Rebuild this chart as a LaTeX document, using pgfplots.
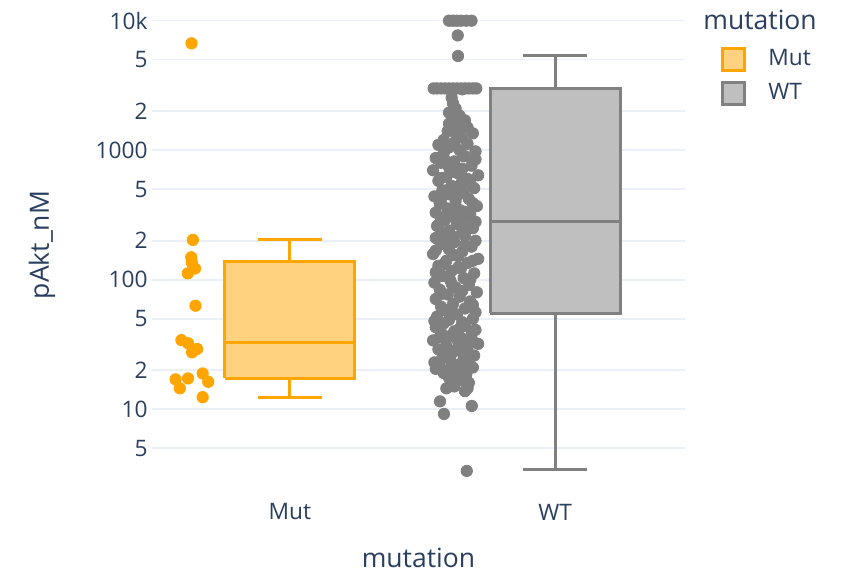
\documentclass[border=0pt]{standalone}
\usepackage{fontspec}
\setmainfont{Open Sans}
\usepackage{pgfplots}
\pgfplotsset{compat=1.18}
\definecolor{textcol}{HTML}{2A3F5F}
\definecolor{gridcol}{HTML}{EBF0F8}
\definecolor{mutorange}{HTML}{FFA500}
\definecolor{mutfill}{HTML}{FFD280}
\definecolor{wtgray}{HTML}{808080}
\definecolor{wtfill}{HTML}{BFBFBF}
\newcommand{\tickfont}{\fontsize{11.35}{13.6}\selectfont}
\newcommand{\titlefont}{\fontsize{13.25}{15.9}\selectfont}
\begin{document}
\begin{tikzpicture}
\begin{axis}[
  at={(0,0)}, anchor=south west,
  scale only axis, width=266.5pt, height=245pt,
  ymode=log, log basis y=10,
  xmin=-0.52, xmax=1.49, ymin=2.38, ymax=14450,
  clip=false,
  axis line style={draw=none},
  major tick length=0pt, minor tick length=0pt,
  xtick={0,1}, xticklabels={Mut,WT},
  ytick={5,10,20,50,100,200,500,1000,2000,5000,10000},
  yticklabels={5,10,2,5,100,2,5,1000,2,5,10k},
  minor ytick={},
  ymajorgrids=true,
  major grid style={draw=gridcol, line width=0.8pt},
  tick label style={font=\tickfont, text=textcol},
  yticklabel style={anchor=east, inner sep=0pt, xshift=-2pt},
  xticklabel style={anchor=center, inner sep=0pt, yshift=-11pt},
  xlabel={mutation}, ylabel={pAkt\_nM},
  label style={font=\titlefont, text=textcol},
  xlabel style={at={(axis description cs:0.5,-0.1388)}, anchor=center},
  ylabel style={at={(axis description cs:-0.2064,0.5)}, anchor=center},
  legend style={at={(axis description cs:1.0675,0.908)}, anchor=north west,
    draw=none, fill=none, inner sep=0pt, font=\tickfont, text=textcol,
    row sep=3.5pt, cells={anchor=west},
    /tikz/every odd column/.append style={column sep=9pt}},
  boxline/.style={line width=1.5pt, line join=miter, forget plot, mark=none},
]
% Mut points
\addplot[only marks, mark=*, mark size=2.85pt, color=mutorange, forget plot] coordinates {
(-0.371,6690) (-0.366,203) (-0.372,149) (-0.37,136) (-0.358,122) (-0.385,112)
(-0.356,63) (-0.409,34.2) (-0.384,32.3) (-0.35,29.2) (-0.369,27.5)
(-0.431,17.0) (-0.384,17.3) (-0.415,14.5) (-0.329,18.9) (-0.308,16.3) (-0.329,12.4)
};
% Mut box: lower whisker 12.4, Q1 17.3, median 32.9, Q3 138, upper whisker 203
\addplot[boxline, draw=mutorange, fill=mutfill] coordinates {(-0.245,17.3) (0.245,17.3) (0.245,138) (-0.245,138) (-0.245,17.3)};
\addplot[boxline, draw=mutorange] coordinates {(-0.245,32.9) (0.245,32.9)};
\addplot[boxline, draw=mutorange] coordinates {(0,138) (0,203)};
\addplot[boxline, draw=mutorange] coordinates {(-0.12,203) (0.12,203)};
\addplot[boxline, draw=mutorange] coordinates {(0,17.3) (0,12.4)};
\addplot[boxline, draw=mutorange] coordinates {(-0.12,12.4) (0.12,12.4)};
% WT points
\addplot[only marks, mark=*, mark size=2.85pt, color=wtgray, forget plot] coordinates {
(0.600,10000) (0.615,10000) (0.630,10000) (0.645,10000) (0.665,10000) (0.685,10000)
(0.633,7700) (0.634,5340)
(0.542,3000) (0.555,3000) (0.570,3000) (0.585,3000) (0.600,3000) (0.615,3000)
(0.630,3000) (0.645,3000) (0.660,3000) (0.675,3000) (0.690,3000) (0.703,3000)
(0.61,2950) (0.65,2950)
(0.61,2550) (0.615,2300) (0.625,2100)
(0.60,1950) (0.64,1850) (0.66,1700) (0.62,1650) (0.67,1500) (0.635,1450) (0.595,1400)
(0.69,1350) (0.65,1250) (0.58,1200) (0.62,1150) (0.56,1100) (0.67,1120) (0.60,1050)
(0.64,1000) (0.70,980) (0.63,1300) (0.60,1600) (0.655,900) (0.59,820)
(0.58,950) (0.66,900) (0.55,870) (0.70,850) (0.62,820) (0.57,800) (0.685,760) (0.60,740)
(0.65,720) (0.54,700) (0.635,660) (0.71,640) (0.59,620) (0.67,600) (0.56,580) (0.645,550)
(0.61,530) (0.695,510) (0.575,490) (0.655,470) (0.605,455) (0.545,440) (0.675,420)
(0.625,405) (0.565,385) (0.705,370) (0.595,355) (0.64,345) (0.55,330) (0.68,320)
(0.615,310) (0.57,300) (0.66,295) (0.585,290) (0.70,280) (0.63,270) (0.555,260)
(0.69,250) (0.60,240) (0.65,232) (0.58,225) (0.66,218) (0.55,210) (0.70,200) (0.62,195)
(0.57,188) (0.685,180) (0.60,172) (0.65,165) (0.54,158) (0.635,152) (0.71,145) (0.59,140)
(0.67,135) (0.56,128) (0.645,122) (0.61,117) (0.695,112) (0.575,107) (0.655,103)
(0.605,99) (0.545,95) (0.675,91) (0.625,87) (0.565,84) (0.705,80) (0.595,77) (0.64,74)
(0.55,71) (0.68,68) (0.615,65) (0.57,62) (0.66,60) (0.585,58) (0.70,56) (0.63,54)
(0.555,52) (0.69,50) (0.60,49) (0.65,47) (0.58,46) (0.66,44) (0.55,43) (0.70,41)
(0.62,40) (0.57,39) (0.685,38) (0.60,36.5) (0.65,35) (0.54,34) (0.635,33) (0.71,32)
(0.59,31) (0.67,30) (0.56,29) (0.645,28) (0.61,27) (0.695,26) (0.575,25) (0.655,24.5)
(0.605,24) (0.545,23) (0.675,22.5) (0.625,22) (0.565,21.5) (0.69,21) (0.595,20)
(0.64,19.5) (0.58,19) (0.665,18.5) (0.615,18) (0.60,17.5) (0.65,16.8) (0.625,16.5)
(0.675,16) (0.62,15) (0.59,14.5) (0.67,14.5)
(0.62,680) (0.57,610) (0.68,560) (0.60,500) (0.64,460) (0.57,410) (0.69,390) (0.62,365)
(0.66,335) (0.59,315) (0.64,285) (0.56,265) (0.67,245) (0.615,215) (0.58,205) (0.66,185)
(0.55,168) (0.62,155) (0.69,140) (0.58,132) (0.635,125) (0.55,114) (0.68,100) (0.61,93)
(0.65,82) (0.575,78) (0.69,64) (0.60,58) (0.545,48) (0.64,42) (0.61,37) (0.565,36)
(0.69,33.5) (0.625,28.5) (0.58,26.5) (0.66,26.5) (0.55,20.5) (0.65,21) (0.61,19) (0.66,13.8)
(0.566,11.5) (0.581,9.2) (0.686,10.6) (0.667,3.34)
};
% WT box: lower whisker 3.4, Q1 55.3, median 284, Q3 2970, upper whisker 5340
\addplot[boxline, draw=wtgray, fill=wtfill] coordinates {(0.755,55.3) (1.245,55.3) (1.245,2970) (0.755,2970) (0.755,55.3)};
\addplot[boxline, draw=wtgray] coordinates {(0.755,284) (1.245,284)};
\addplot[boxline, draw=wtgray] coordinates {(1,2970) (1,5340)};
\addplot[boxline, draw=wtgray] coordinates {(0.88,5340) (1.12,5340)};
\addplot[boxline, draw=wtgray] coordinates {(1,55.3) (1,3.4)};
\addplot[boxline, draw=wtgray] coordinates {(0.88,3.4) (1.12,3.4)};
% legend
\addlegendimage{legend image code/.code={\draw[draw=mutorange,fill=mutfill,line width=1.5pt] (0pt,-5.5pt) rectangle (11pt,5.5pt);}}
\addlegendentry{Mut}
\addlegendimage{legend image code/.code={\draw[draw=wtgray,fill=wtfill,line width=1.5pt] (0pt,-5.5pt) rectangle (11pt,5.5pt);}}
\addlegendentry{WT}
\node[anchor=west, font=\titlefont, text=textcol, inner sep=0pt] at (axis description cs:1.0338,0.959) {mutation};
\end{axis}
\pgfresetboundingbox
\useasboundingbox (-76pt,-40.5pt) rectangle (344.5pt,245pt);
\end{tikzpicture}
\end{document}
